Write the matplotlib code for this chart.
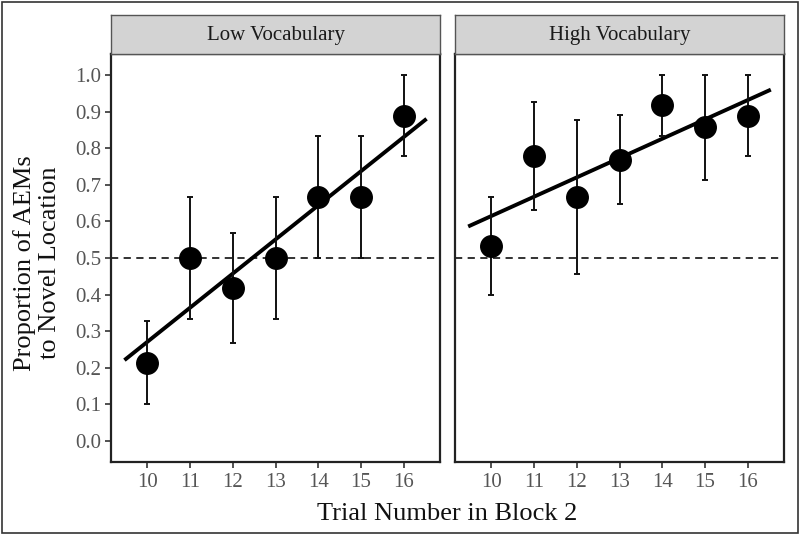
import numpy as np
import matplotlib
matplotlib.use("Agg")
from matplotlib import pyplot as plt
from matplotlib.patches import Rectangle

plt.rcParams["font.family"] = ["Liberation Serif", "DejaVu Serif"]

trials = [10, 11, 12, 13, 14, 15, 16]
panels = ["Low Vocabulary", "High Vocabulary"]

# proportion of AEMs to novel location, with error bar limits
low_mean = [0.214, 0.500, 0.417, 0.500, 0.667, 0.667, 0.889]
low_lo = [0.100, 0.333, 0.267, 0.333, 0.500, 0.500, 0.778]
low_hi = [0.328, 0.667, 0.567, 0.667, 0.834, 0.834, 1.000]

high_mean = [0.533, 0.778, 0.667, 0.768, 0.918, 0.857, 0.889]
high_lo = [0.400, 0.631, 0.455, 0.647, 0.832, 0.714, 0.778]
high_hi = [0.667, 0.925, 0.877, 0.890, 1.000, 1.000, 1.000]

chance = 0.5
yticks = np.round(np.arange(0, 1.01, 0.1), 1)

W, H = 800, 534
fig = plt.figure(figsize=(8, 5.34), dpi=100)
fig.patches.append(Rectangle((0.002, 0.002), 0.996, 0.994, transform=fig.transFigure,
                             fill=False, edgecolor="#333333", linewidth=1.2))

panel_left = [111, 455]
panel_w = 329
top, bottom = 54, 462
strip_top = 15

data = [(low_mean, low_lo, low_hi), (high_mean, high_lo, high_hi)]

for i, (mean, lo, hi) in enumerate(data):
    x0 = panel_left[i]
    ax = fig.add_axes([x0 / W, 1 - bottom / H, panel_w / W, (bottom - top) / H])
    sax = fig.add_axes([x0 / W, 1 - top / H, panel_w / W, (top - strip_top) / H])

    x = np.array(trials)
    m = np.array(mean)
    yerr = [m - np.array(lo), np.array(hi) - m]

    ax.axhline(chance, color="#222222", linestyle=(0, (4, 3)), linewidth=1.3, zorder=1)

    # linear fit, like geom_smooth(method = "lm")
    slope, icpt = np.polyfit(x, m, 1)
    xs = np.array([9.5, 16.5])
    ax.plot(xs, icpt + slope * xs, color="black", linewidth=2.8, zorder=2)

    ax.errorbar(x, m, yerr=yerr, fmt="none", ecolor="#111111", elinewidth=1.4,
                capsize=2.5, capthick=1.4, zorder=3)
    ax.plot(x, m, "o", color="black", markersize=15.5, zorder=4)

    ax.set_xlim(9.15, 16.85)
    ax.set_ylim(-0.057, 1.057)
    ax.set_xticks(trials)
    ax.set_xticklabels([str(t) for t in trials])
    ax.set_yticks(yticks)
    if i == 0:
        ax.set_yticklabels([f"{v:.1f}" for v in yticks])
    else:
        ax.tick_params(axis="y", left=False, labelleft=False)
    ax.tick_params(axis="both", direction="out", length=4, width=1.2,
                   color="#333333", labelsize=15, labelcolor="#555555")
    ax.tick_params(axis="x", pad=4)
    ax.tick_params(axis="y", pad=3)
    for sp in ax.spines.values():
        sp.set_linewidth(1.6)
        sp.set_color("#222222")

    sax.set_facecolor("#d3d3d3")
    sax.set_xticks([])
    sax.set_yticks([])
    for sp in sax.spines.values():
        sp.set_linewidth(1.0)
        sp.set_color("#555555")
    sax.text(0.5, 0.47, panels[i], transform=sax.transAxes, ha="center", va="center",
             fontsize=15, color="#1a1a1a")

fig.text(37 / W, 1 - 263 / H, "Proportion of AEMs\nto Novel Location", rotation=90,
         ha="center", va="center", fontsize=19, color="#111111", linespacing=1.2)
fig.text((111 + 784) / 2 / W, 1 - 514 / H, "Trial Number in Block 2", ha="center",
         va="center", fontsize=19, color="#111111")

plt.savefig("out.png", dpi=100)
